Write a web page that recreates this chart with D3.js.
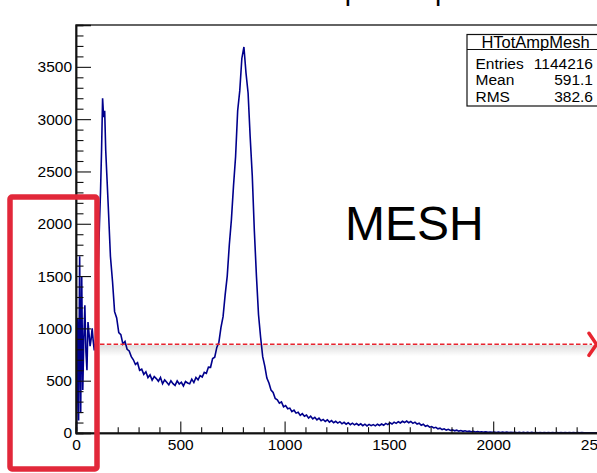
<!DOCTYPE html>
<html>
<head>
<meta charset="utf-8">
<script src="https://cdn.jsdelivr.net/npm/d3@7"></script>
<style>
  html, body { margin: 0; padding: 0; background: #fff; overflow: hidden; }
  svg { display: block; font-family: "Liberation Sans", Arial, Helvetica, sans-serif; }
</style>
</head>
<body>
<svg id="chart" width="597" height="473"></svg>
<script>
// ---------------- DATA ----------------
const titleText = "Total amplitude per mesh";
const histName = "HTotAmpMesh";
const statLabels = ["Entries", "Mean", "RMS"];
const statValues = ["1144216", "591.1", "382.6"];
const annotationText = "MESH";

const xTickLabels = [0, 500, 1000, 1500, 2000, 2500];
const yTickLabels = [0, 500, 1000, 1500, 2000, 2500, 3000, 3500];
const xDomain = [0, 3000];
const yDomain = [0, 3900];
const thresholdLevel = 848;

// fine bins (width 5) from 0 to 150
const lowStart = 0, lowWidth = 5;
const countsLow = [20, 1100, 120, 1690, 190, 1490, 410, 900, 1220, 780,
  600, 1060, 950, 830, 900, 1000, 880, 790, 850, 950,
  1300, 1650, 2000, 2300, 2700, 3200, 3020, 3080, 2700, 2480];

// main bins (width 10) from 150 onwards
const mainStart = 150, mainWidth = 10;
const countsMain = [
  2150, 1690, 1450, 1160, 1100, 960, 940, 850, 875, 800,          // 150-240
  785, 730, 700, 655, 672, 600, 610, 560, 585, 530,               // 250-340
  555, 505, 540, 520, 495, 530, 470, 508, 485, 460,               // 350-440
  500, 472, 455, 498, 468, 485, 450, 492, 478, 470,               // 450-540
  515, 482, 530, 508, 548, 535, 580, 570, 630, 628,               // 550-640
  712, 725, 818, 868, 1010, 1112, 1320, 1500, 1800, 2040,         // 650-740
  2360, 2640, 3080, 3270, 3580, 3690, 3440, 3250, 2830, 2460,     // 750-840
  1930, 1500, 1130, 915, 730, 640, 525, 478, 410, 388,            // 850-940
  330, 318, 285, 298, 250, 262, 232, 238, 205, 218,               // 950-1040
  190, 198, 168, 185, 160, 172, 142, 160, 135, 150,               // 1050-1140
  125, 142, 118, 130, 110, 126, 104, 118, 98, 112,                // 1150-1240
  95, 108, 88, 102, 84, 98, 80, 94, 78, 90,                       // 1250-1340
  75, 88, 70, 84, 68, 82, 70, 80, 68, 84,                         // 1350-1440
  72, 86, 74, 92, 80, 98, 86, 104, 92, 108,                       // 1450-1540
  96, 112, 100, 114, 98, 110, 92, 104, 86, 94,                    // 1550-1640
  74, 84, 64, 72, 56, 62, 48, 54, 40, 46,                         // 1650-1740
  33, 40, 28, 35, 24, 30, 21, 27, 18, 24,                         // 1750-1840
  16, 21, 14, 18, 12, 16, 10, 14, 9, 12,                          // 1850-1940
  8, 11, 7, 10, 6, 9, 5, 9, 5, 8,                                 // 1950-2040
  4, 8, 4, 7, 4, 7, 3, 7, 3, 6,                                   // 2050-2140
  3, 6, 3, 6, 2, 5, 2, 5, 2, 5,                                   // 2150-2240
  2, 5, 2, 5, 2, 4, 2, 4, 2, 4,                                   // 2250-2340
  2, 4, 1, 4, 1, 4, 1, 4, 1, 3,                                   // 2350-2440
  1, 3, 1, 3, 1, 3, 1, 3, 1, 3,                                   // 2450-2540
  1, 3, 1, 3, 1, 3, 1, 3, 1, 3,                                   // 2550-2640
  1, 3, 1, 3, 1, 3, 1, 3, 1, 3                                    // 2650-2740
];

// ---------------- BUILD BINS ----------------
const bins = [];
countsLow.forEach((v, i) => bins.push({ x0: lowStart + i * lowWidth, x1: lowStart + (i + 1) * lowWidth, v }));
countsMain.forEach((v, i) => bins.push({ x0: mainStart + i * mainWidth, x1: mainStart + (i + 1) * mainWidth, v }));

// ---------------- LAYOUT ----------------
const svg = d3.select("#chart");
const mLeft = 76, mTop = 25, mBottom = 433;
const pxPer500 = 104.3;
const mRight = mLeft + (xDomain[1] - xDomain[0]) / 500 * pxPer500;

const x = d3.scaleLinear().domain(xDomain).range([mLeft, mRight]);
const y = d3.scaleLinear().domain(yDomain).range([mBottom, mTop]);

// title (mostly above visible area)
svg.append("text")
  .attr("x", 239).attr("y", -0.5)
  .attr("font-size", 28).attr("fill", "#000")
  .text(titleText);

const defs = svg.append("defs");
defs.append("clipPath").attr("id", "plotclip")
  .append("rect").attr("x", mLeft).attr("y", mTop).attr("width", mRight - mLeft).attr("height", mBottom - mTop);

// histogram line through bin centres
const line = d3.line().x(b => x((b.x0 + b.x1) / 2)).y(b => y(b.v)).curve(d3.curveLinear);
svg.append("path")
  .attr("clip-path", "url(#plotclip)")
  .attr("d", line(bins))
  .attr("fill", "none")
  .attr("stroke", "#00008c")
  .attr("stroke-width", 1.6)
  .attr("stroke-linejoin", "miter")
  .attr("stroke-miterlimit", 3);

// frame
svg.append("rect")
  .attr("x", mLeft).attr("y", mTop).attr("width", mRight - mLeft).attr("height", mBottom - mTop)
  .attr("fill", "none").attr("stroke", "#111").attr("stroke-width", 1.3);

// axes
const yMinor = d3.range(0, yDomain[1] + 1, 100).filter(v => v % 500 !== 0);
const xMinor = d3.range(0, xDomain[1] + 1, 100).filter(v => v % 500 !== 0);

const gy = svg.append("g").attr("transform", `translate(${mLeft},0)`);
gy.call(d3.axisLeft(y).tickValues(yTickLabels).tickSize(-15).tickPadding(4).tickFormat(d3.format("d")));
gy.append("g").call(d3.axisLeft(y).tickValues(yMinor).tickSize(-7.5).tickFormat(""));

const gx = svg.append("g").attr("transform", `translate(0,${mBottom})`);
gx.call(d3.axisBottom(x).tickValues(xTickLabels).tickSize(-11.5).tickPadding(6).tickFormat(d3.format("d")));
gx.append("g").call(d3.axisBottom(x).tickValues(xMinor).tickSize(-5.8).tickFormat(""));

svg.selectAll(".domain").attr("stroke", "#111").attr("stroke-width", 1.5);
svg.selectAll(".tick line").attr("stroke", "#111").attr("stroke-width", 1.1);
svg.selectAll(".tick text").attr("font-size", 15.5).attr("fill", "#000")
  .attr("font-family", "'Liberation Sans', Arial, sans-serif");

// stats box
const sb = svg.append("g");
sb.append("rect").attr("x", 467).attr("y", 34.5).attr("width", 137).attr("height", 71.5)
  .attr("fill", "#fff").attr("stroke", "#111").attr("stroke-width", 1.2);
sb.append("line").attr("x1", 467).attr("x2", 604).attr("y1", 49.5).attr("y2", 49.5)
  .attr("stroke", "#111").attr("stroke-width", 1.2);
sb.append("text").attr("x", 535.5).attr("y", 47.5).attr("text-anchor", "middle")
  .attr("font-size", 16.5).text(histName);
statLabels.forEach((lab, i) => {
  const by = 68.5 + i * 16.7;
  sb.append("text").attr("x", 475.5).attr("y", by).attr("font-size", 15.5).text(lab);
  sb.append("text").attr("x", 593).attr("y", by).attr("text-anchor", "end").attr("font-size", 15.5).text(statValues[i]);
});

// big annotation
svg.append("text").attr("x", 345).attr("y", 240).attr("font-size", 48).attr("fill", "#000").text(annotationText);

// threshold line shadow
const grad = defs.append("linearGradient").attr("id", "shadowgrad").attr("x1", 0).attr("x2", 0).attr("y1", 0).attr("y2", 1);
grad.append("stop").attr("offset", "0%").attr("stop-color", "#000").attr("stop-opacity", 0.13);
grad.append("stop").attr("offset", "100%").attr("stop-color", "#000").attr("stop-opacity", 0);
const ty = y(thresholdLevel);
svg.append("rect").attr("x", 100).attr("y", ty + 0.8).attr("width", 497).attr("height", 11)
  .attr("fill", "url(#shadowgrad)");

// threshold dashed line
svg.append("line").attr("x1", 100).attr("x2", 592).attr("y1", ty).attr("y2", ty)
  .attr("stroke", "#e8242f").attr("stroke-width", 1.6).attr("stroke-dasharray", "4.5,2.3");
svg.append("polyline").attr("points", `589,${ty - 11} 596.5,${ty} 589,${ty + 11}`)
  .attr("fill", "none").attr("stroke", "#e8242f").attr("stroke-width", 3.5)
  .attr("stroke-linecap", "round").attr("stroke-linejoin", "round");

// red highlight rectangle
svg.append("rect").attr("x", 10).attr("y", 197).attr("width", 87).attr("height", 272)
  .attr("rx", 2).attr("fill", "none").attr("stroke", "#e2283a").attr("stroke-width", 5.5);
</script>
</body>
</html>
